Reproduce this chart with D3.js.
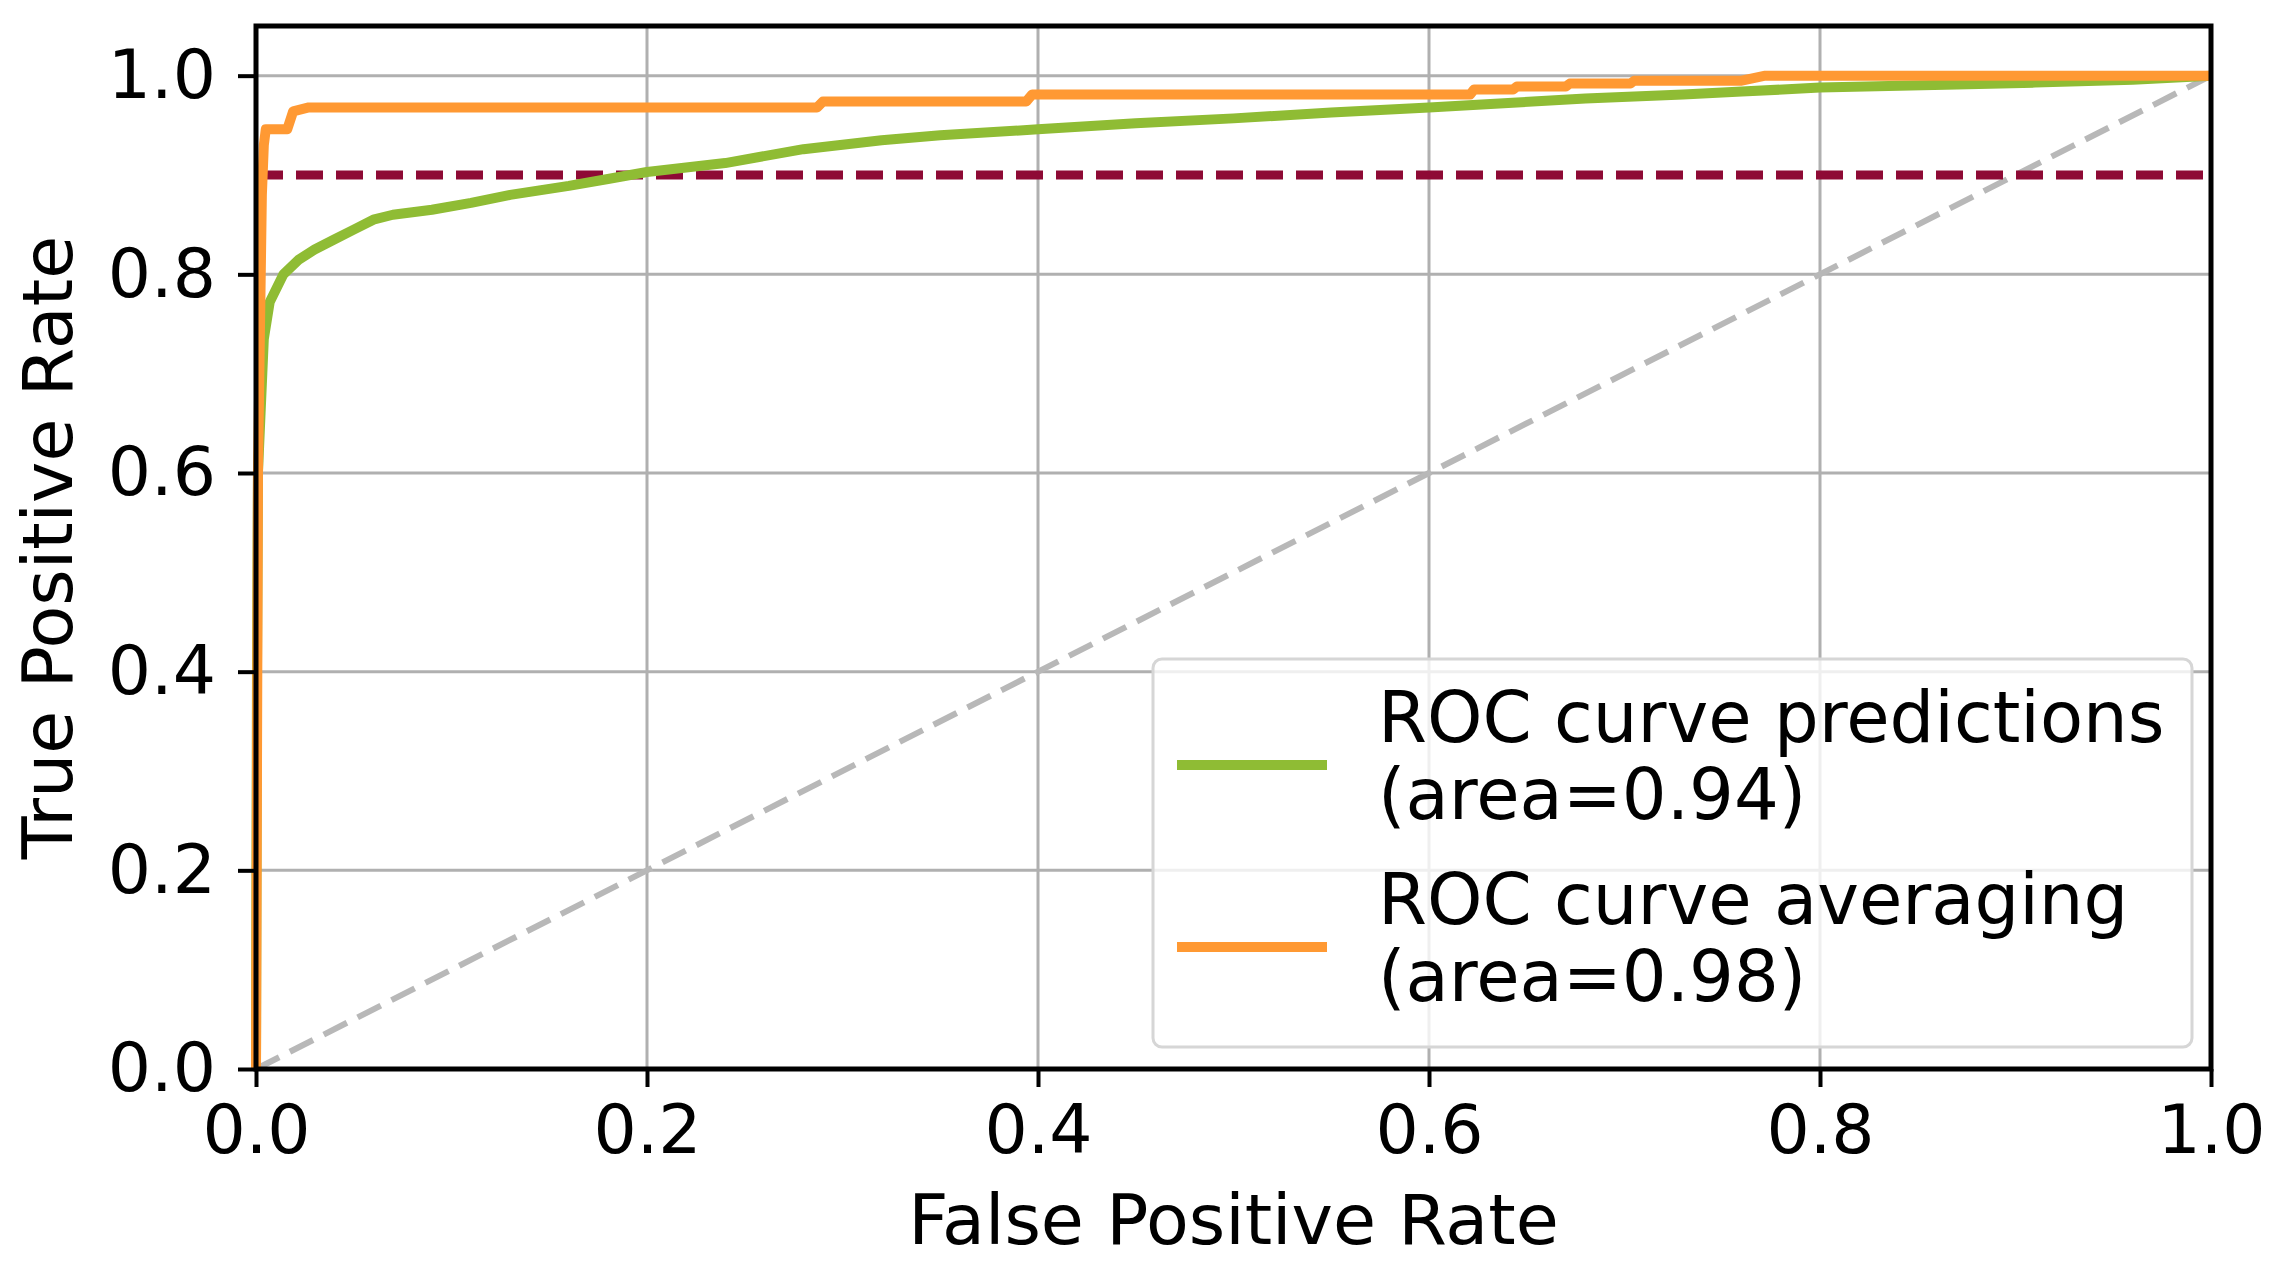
<!DOCTYPE html>
<html>
<head>
<meta charset="utf-8">
<script src="https://cdn.jsdelivr.net/npm/d3@7"></script>
<style>
  body { margin: 0; background: #fff; }
  text { font-family: 'DejaVu Sans', sans-serif; }
</style>
</head>
<body>
<div id="chart"></div>
<script>
// Data
const xTicks = [0, 0.2, 0.4, 0.6, 0.8, 1.0]
const yTicks = [0, 0.2, 0.4, 0.6, 0.8, 1.0]

const predFpr = [0, 0.0005, 0.001, 0.003, 0.004, 0.007, 0.014, 0.022, 0.03, 0.04, 0.05, 0.06, 0.07, 0.09, 0.11, 0.13, 0.16, 0.18, 0.2, 0.24, 0.28, 0.32, 0.35, 0.4, 0.45, 0.5, 0.55, 0.6, 0.645, 0.68, 0.73, 0.76, 0.8, 0.87, 0.91, 0.96, 1]
const predTpr = [0, 0.4, 0.6, 0.69, 0.735, 0.772, 0.8, 0.815, 0.825, 0.835, 0.845, 0.855, 0.86, 0.865, 0.872, 0.88, 0.889, 0.896, 0.903, 0.912, 0.926, 0.935, 0.94, 0.946, 0.952, 0.957, 0.963, 0.968, 0.973, 0.977, 0.981, 0.984, 0.988, 0.991, 0.993, 0.996, 1]

const avgFpr = [0, 0.001, 0.003, 0.004, 0.005, 0.016, 0.019, 0.027, 0.287, 0.29, 0.394, 0.397, 0.621, 0.623, 0.643, 0.645, 0.67, 0.672, 0.703, 0.705, 0.76, 0.772, 1]
const avgTpr = [0, 0.6, 0.88, 0.93, 0.946, 0.946, 0.964, 0.968, 0.968, 0.974, 0.974, 0.981, 0.981, 0.986, 0.986, 0.989, 0.989, 0.992, 0.992, 0.995, 0.995, 1.0, 1.0]

const threshold = 0.9
const legendLabels = [['ROC curve predictions', '(area=0.94)'], ['ROC curve averaging', '(area=0.98)']]
const seriesColors = ['#8fbc34', '#ff9933']

// Dimensions
let dimensions = {
    width: 2280,
    height: 1268,
    margin: {
        top: 26,
        bottom: 199,
        left: 256,
        right: 69
    }
}
dimensions.ctrWidth = dimensions.width - dimensions.margin.left - dimensions.margin.right
dimensions.ctrHeight = dimensions.height - dimensions.margin.top - dimensions.margin.bottom

const svg = d3.select('#chart')
    .append('svg')
    .attr('width', dimensions.width)
    .attr('height', dimensions.height)

const ctr = svg.append('g')
    .attr('transform', `translate(${dimensions.margin.left}, ${dimensions.margin.top})`)

// Scales
const xScale = d3.scaleLinear()
    .domain([0, 1])
    .range([0, dimensions.ctrWidth])

const yScale = d3.scaleLinear()
    .domain([0, 1.05])
    .range([dimensions.ctrHeight, 0])

// Grid
ctr.append('g')
    .selectAll('line')
    .data(xTicks)
    .join('line')
    .attr('x1', d => xScale(d)).attr('x2', d => xScale(d))
    .attr('y1', 0).attr('y2', dimensions.ctrHeight)
    .attr('stroke', '#b0b0b0').attr('stroke-width', 3)

ctr.append('g')
    .selectAll('line')
    .data(yTicks)
    .join('line')
    .attr('y1', d => yScale(d)).attr('y2', d => yScale(d))
    .attr('x1', 0).attr('x2', dimensions.ctrWidth)
    .attr('stroke', '#b0b0b0').attr('stroke-width', 3)

// Chance diagonal
ctr.append('line')
    .attr('x1', xScale(0)).attr('y1', yScale(0))
    .attr('x2', xScale(1)).attr('y2', yScale(1))
    .attr('stroke', '#b8b8b8')
    .attr('stroke-width', 6)
    .attr('stroke-dasharray', '26,12')

// Threshold line
ctr.append('line')
    .attr('x1', xScale(0)).attr('y1', yScale(threshold))
    .attr('x2', xScale(1)).attr('y2', yScale(threshold))
    .attr('stroke', '#8e0a35')
    .attr('stroke-width', 9)
    .attr('stroke-dasharray', '27,13')

// Curves
const line = d3.line()
    .x(d => xScale(d[0]))
    .y(d => yScale(d[1]))

const series = [
    d3.zip(predFpr, predTpr),
    d3.zip(avgFpr, avgTpr)
]

ctr.selectAll('.curve')
    .data(series)
    .join('path')
    .attr('class', 'curve')
    .attr('d', line)
    .attr('fill', 'none')
    .attr('stroke', (d, i) => seriesColors[i])
    .attr('stroke-width', 10)
    .attr('stroke-linejoin', 'round')

// Axes
const xAxis = d3.axisBottom(xScale)
    .tickValues(xTicks)
    .tickFormat(d3.format('.1f'))
    .tickSize(18)
    .tickPadding(18)

const xAxisGroup = ctr.append('g')
    .attr('transform', `translate(0, ${dimensions.ctrHeight})`)
    .call(xAxis)

const yAxis = d3.axisLeft(yScale)
    .tickValues(yTicks)
    .tickFormat(d3.format('.1f'))
    .tickSize(18)
    .tickPadding(22)

const yAxisGroup = ctr.append('g')
    .call(yAxis)

;[xAxisGroup, yAxisGroup].forEach(g => {
    g.select('.domain').remove()
    g.selectAll('.tick line').attr('stroke', '#000').attr('stroke-width', 4)
    g.selectAll('.tick text')
        .attr('fill', '#000')
        .style('font-size', '68px')
        .style('font-family', "'DejaVu Sans', sans-serif")
})

// Frame
ctr.append('rect')
    .attr('width', dimensions.ctrWidth)
    .attr('height', dimensions.ctrHeight)
    .attr('fill', 'none')
    .attr('stroke', '#000')
    .attr('stroke-width', 5)

// Axis labels
xAxisGroup.append('text')
    .attr('x', dimensions.ctrWidth / 2)
    .attr('y', 175)
    .attr('fill', 'black')
    .attr('text-anchor', 'middle')
    .style('font-size', '70px')
    .text('False Positive Rate')

yAxisGroup.append('text')
    .attr('x', -dimensions.ctrHeight / 2)
    .attr('y', -dimensions.margin.left + 72)
    .attr('fill', 'black')
    .attr('text-anchor', 'middle')
    .attr('transform', 'rotate(-90)')
    .style('font-size', '70px')
    .text('True Positive Rate')

// Legend
const legend = svg.append('g')
    .attr('transform', 'translate(1153, 659)')

legend.append('rect')
    .attr('width', 1039)
    .attr('height', 388)
    .attr('rx', 9)
    .attr('fill', 'rgba(255,255,255,0.8)')
    .attr('stroke', '#d6d6d6')
    .attr('stroke-width', 3)

const items = legend.selectAll('.item')
    .data(legendLabels)
    .join('g')
    .attr('class', 'item')
    .attr('transform', (d, i) => `translate(0, ${i * 182})`)

items.append('line')
    .attr('x1', 24).attr('x2', 174)
    .attr('y1', 106).attr('y2', 106)
    .attr('stroke', (d, i) => seriesColors[i])
    .attr('stroke-width', 10)

items.selectAll('text')
    .data(d => d)
    .join('text')
    .attr('x', 225)
    .attr('y', (d, j) => 83 + j * 77)
    .attr('fill', '#000')
    .style('font-size', '70.5px')
    .text(d => d)
</script>
</body>
</html>
